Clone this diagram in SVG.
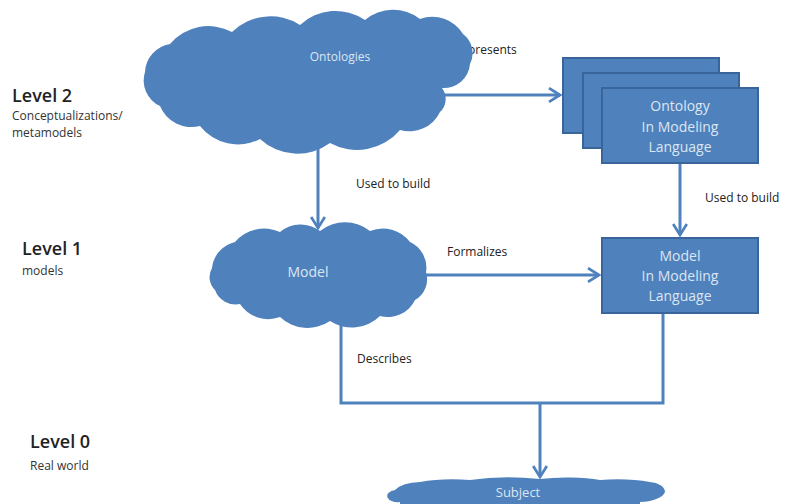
<svg xmlns="http://www.w3.org/2000/svg" width="806" height="504" viewBox="0 0 806 504">
<style>
.cloud{fill:#4f81bd;}
.box{fill:#4f81bd;stroke:#3a659a;stroke-width:2;}
.in{font-family:"Open Sans","Liberation Sans",sans-serif;fill:#dce6f2;text-anchor:middle;}
.con{fill:none;stroke:#4f81bd;stroke-width:3;}
.lbl{font-family:"Open Sans","Liberation Sans",sans-serif;font-size:12px;fill:#222;}
.lvl{font-family:"Open Sans","Liberation Sans",sans-serif;font-size:18px;font-weight:600;fill:#222;}
.sub{font-family:"Open Sans","Liberation Sans",sans-serif;font-size:12px;fill:#333;}
</style>
<defs>
<marker id="arr" viewBox="0 0 12 12" refX="10" refY="6" markerWidth="5.5" markerHeight="5.5" orient="auto" markerUnits="strokeWidth">
<path d="M2,1 L10,6 L2,11" fill="none" stroke="#4f81bd" stroke-width="2"/>
</marker>
</defs>
<rect width="806" height="504" fill="#fff"/>
<g id="levels">
<text class="lvl" x="12" y="102">Level 2</text>
<text class="sub" x="12" y="120">Conceptualizations/</text>
<text class="sub" x="12" y="137">metamodels</text>
<text class="lvl" x="22" y="255">Level 1</text>
<text class="sub" x="22" y="275">models</text>
<text class="lvl" x="30" y="448">Level 0</text>
<text class="sub" x="30" y="470">Real world</text>
</g>
<g id="connectors">
<path class="con" d="M440,95 L560,95" marker-end="url(#arr)"/>
<path class="con" d="M318,143 L318,228" marker-end="url(#arr)"/>
<path class="con" d="M680,164 L680,235" marker-end="url(#arr)"/>
<path class="con" d="M426,275 L599,275" marker-end="url(#arr)"/>
<path class="con" d="M341,325 L341,403 L663,403 L663,314"/>
<path class="con" d="M540,403 L540,477" marker-end="url(#arr)"/>
<text class="lbl" x="468" y="54">presents</text>
<text class="lbl" x="356" y="188">Used to build</text>
<text class="lbl" x="705" y="202">Used to build</text>
<text class="lbl" x="447" y="256">Formalizes</text>
<text class="lbl" x="357" y="363">Describes</text>
</g>
<g id="ontologies">
<path class="cloud" d="M145,72 A30,30 0 0,1 170,44 A50,50 0 0,1 232,32 A55,55 0 0,1 300,25 A52,52 0 0,1 365,20 A44,44 0 0,1 420,19 A36,36 0 0,1 463,34 A24,24 0 0,1 470,64 A26,26 0 0,1 442,88 A18,18 0 0,1 440,112 A34,34 0 0,1 400,130 A56,56 0 0,1 330,143 A55,55 0 0,1 260,139 A48,48 0 0,1 200,126 A34,34 0 0,1 160,106 A28,28 0 0,1 145,72 Z"/>
<text class="in" x="340" y="61" font-size="12">Ontologies</text>
</g>
<g id="ontology-ml">
<rect class="box" x="563" y="58" width="156" height="75"/>
<rect class="box" x="583" y="73" width="156" height="75"/>
<rect class="box" x="602" y="88" width="156" height="75"/>
<text class="in" x="680" y="111" font-size="14">Ontology</text>
<text class="in" x="680" y="132" font-size="14">In Modeling</text>
<text class="in" x="680" y="152" font-size="14">Language</text>
</g>
<g id="model">
<path class="cloud" d="M212,268 A30,30 0 0,1 235,242 A38,38 0 0,1 280,232 A32,32 0 0,1 320,231 A40,40 0 0,1 370,231 A34,34 0 0,1 410,242 A28,28 0 0,1 426,272 A24,24 0 0,1 415,300 A30,30 0 0,1 380,316 A40,40 0 0,1 330,321 A40,40 0 0,1 280,317 A34,34 0 0,1 240,304 A22,22 0 0,1 215,290 A18,18 0 0,1 212,268 Z"/>
<text class="in" x="308" y="277" font-size="14">Model</text>
</g>
<g id="model-ml">
<rect class="box" x="602" y="238" width="156" height="75"/>
<text class="in" x="680" y="261" font-size="14">Model</text>
<text class="in" x="680" y="281" font-size="14">In Modeling</text>
<text class="in" x="680" y="301" font-size="14">Language</text>
</g>
<g id="subject">
<path class="cloud" d="M395,490 A30,14 0 0,1 420,482 A50,10 0 0,1 470,480 A60,10 0 0,1 540,479 A50,10 0 0,1 600,480 A50,10 0 0,1 650,482 A16,10 0 0,1 665,492 A26,12 0 0,1 640,502 L640,510 L400,510 L400,502 A10,6 0 0,1 395,490 Z"/>
<text class="in" x="518" y="497" font-size="13">Subject</text>
</g>
</svg>
